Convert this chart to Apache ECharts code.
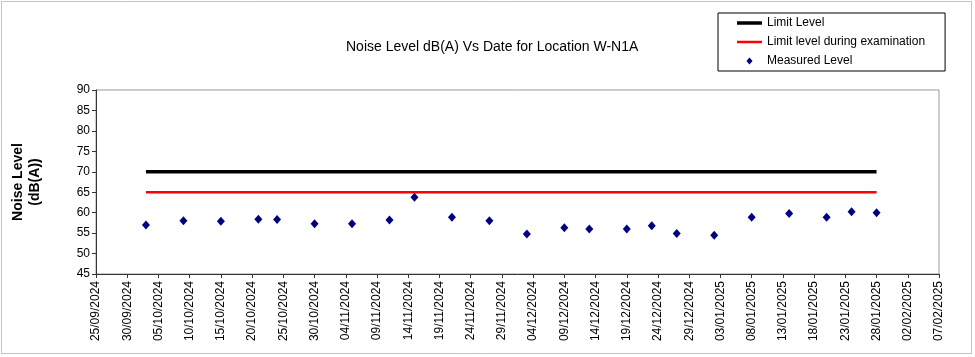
<!DOCTYPE html>
<html>
<head>
<meta charset="utf-8">
<script src="https://cdn.jsdelivr.net/npm/echarts@6/dist/echarts.min.js"></script>
<style>
html,body{margin:0;padding:0;background:#fff;}
#chart{width:975px;height:357px;}
</style>
</head>
<body>
<div id="chart"></div>
<script>
// ---- data ----
const measureDates = ["03/10/2024","09/10/2024","15/10/2024","21/10/2024","24/10/2024","30/10/2024",
  "05/11/2024","11/11/2024","15/11/2024","21/11/2024","27/11/2024","03/12/2024","09/12/2024",
  "13/12/2024","19/12/2024","23/12/2024","27/12/2024","02/01/2025","08/01/2025","14/01/2025",
  "20/01/2025","24/01/2025","28/01/2025"];
const measuredLevel = [57.0,58.0,57.9,58.4,58.3,57.3,57.3,58.2,63.8,58.9,58.0,54.8,56.3,56.0,56.0,56.8,54.9,54.5,58.9,59.8,58.9,60.2,60.0];
const limitLevel = 70;
const limitExamLevel = 65;
const axisStartDate = "25/09/2024";
const axisEndDate = "07/02/2025";
const tickStepDays = 5;
const yTicks = [45,50,55,60,65,70,75,80,85,90];

// ---- helpers ----
function parseDMY(s){ const p=s.split('/'); return Date.UTC(+p[2], +p[1]-1, +p[0]); }
const DAY = 86400000;
const base = parseDMY(axisStartDate);
function dayOf(s){ return Math.round((parseDMY(s)-base)/DAY); }
function fmt(d){
  const t = new Date(base + d*DAY);
  const dd = String(t.getUTCDate()).padStart(2,'0');
  const mm = String(t.getUTCMonth()+1).padStart(2,'0');
  return dd + '/' + mm + '/' + t.getUTCFullYear();
}
const xs = measureDates.map(dayOf);
const font = '"Liberation Sans", Arial, sans-serif';

const chart = echarts.init(document.getElementById('chart'), null, {renderer:'canvas'});
chart.setOption({
  animation:false,
  backgroundColor:'#fff',
  textStyle:{fontFamily:font},
  title:{
    text:'Noise Level dB(A) Vs Date for Location W-N1A',
    left:341, top:35,
    textStyle:{fontSize:14, fontWeight:'normal', color:'#000', fontFamily:font}
  },
  legend:{
    orient:'vertical',
    left:718, top:13,
    padding:[3,20,3,19],
    itemGap:5,
    itemWidth:25, itemHeight:7,
    symbolKeepAspect:true,
    borderColor:'#000', borderWidth:1,
    textStyle:{fontSize:12, color:'#000', fontFamily:font, lineHeight:14},
    data:[
      {name:'Limit Level', icon:'path://M0,0H25V3.5H0Z', itemStyle:{color:'#000'}},
      {name:'Limit level during examination', icon:'path://M0,0H25V2.5H0Z', itemStyle:{color:'#ff0000'}},
      {name:'Measured Level', icon:'path://M0,-4L3.5,0L0,4L-3.5,0Z', itemStyle:{color:'#000080', opacity:1}}
    ]
  },
  graphic:[{
    type:'rect', shape:{x:1.5,y:1.5,width:970,height:352},
    style:{fill:'none', stroke:'#888', lineWidth:1, lineDash:[1,1]}, silent:true, z:-1
  }],
  grid:{left:96, right:36, top:90, bottom:83, show:true, borderColor:'#999', borderWidth:1},
  xAxis:{
    type:'value', min:0, max:dayOf(axisEndDate), interval:tickStepDays,
    axisLine:{show:true, lineStyle:{color:'#333', width:1}},
    axisTick:{show:true, inside:false, length:4, lineStyle:{color:'#333'}},
    splitLine:{show:false},
    axisLabel:{rotate:90, fontSize:12, color:'#000', margin:7, fontFamily:font, formatter:function(v){return fmt(v);}}
  },
  yAxis:{
    type:'value', min:yTicks[0], max:yTicks[yTicks.length-1], interval:5,
    name:'Noise Level\n(dB(A))', nameLocation:'middle', nameGap:52, nameRotate:90,
    nameTextStyle:{fontSize:14, fontWeight:'bold', color:'#000', fontFamily:font, lineHeight:17, align:'center'},
    axisLine:{show:true, lineStyle:{color:'#333', width:1}},
    axisTick:{show:true, inside:false, length:4, lineStyle:{color:'#333'}},
    splitLine:{show:false},
    axisLabel:{fontSize:12, color:'#000', margin:6, fontFamily:font}
  },
  series:[
    {
      name:'Limit Level', type:'line', symbol:'none',
      data:xs.map(x=>[x, limitLevel]),
      lineStyle:{color:'#000', width:3.5}, itemStyle:{color:'#000'}, z:2
    },
    {
      name:'Limit level during examination', type:'line', symbol:'none',
      data:xs.map(x=>[x, limitExamLevel]),
      lineStyle:{color:'#ff0000', width:2.5}, itemStyle:{color:'#ff0000'}, z:2
    },
    {
      name:'Measured Level', type:'scatter', symbol:'diamond', symbolSize:[8,9],
      data:xs.map((x,i)=>[x, measuredLevel[i]]),
      itemStyle:{color:'#000080', opacity:1}, z:3
    }
  ]
});
</script>
</body>
</html>
